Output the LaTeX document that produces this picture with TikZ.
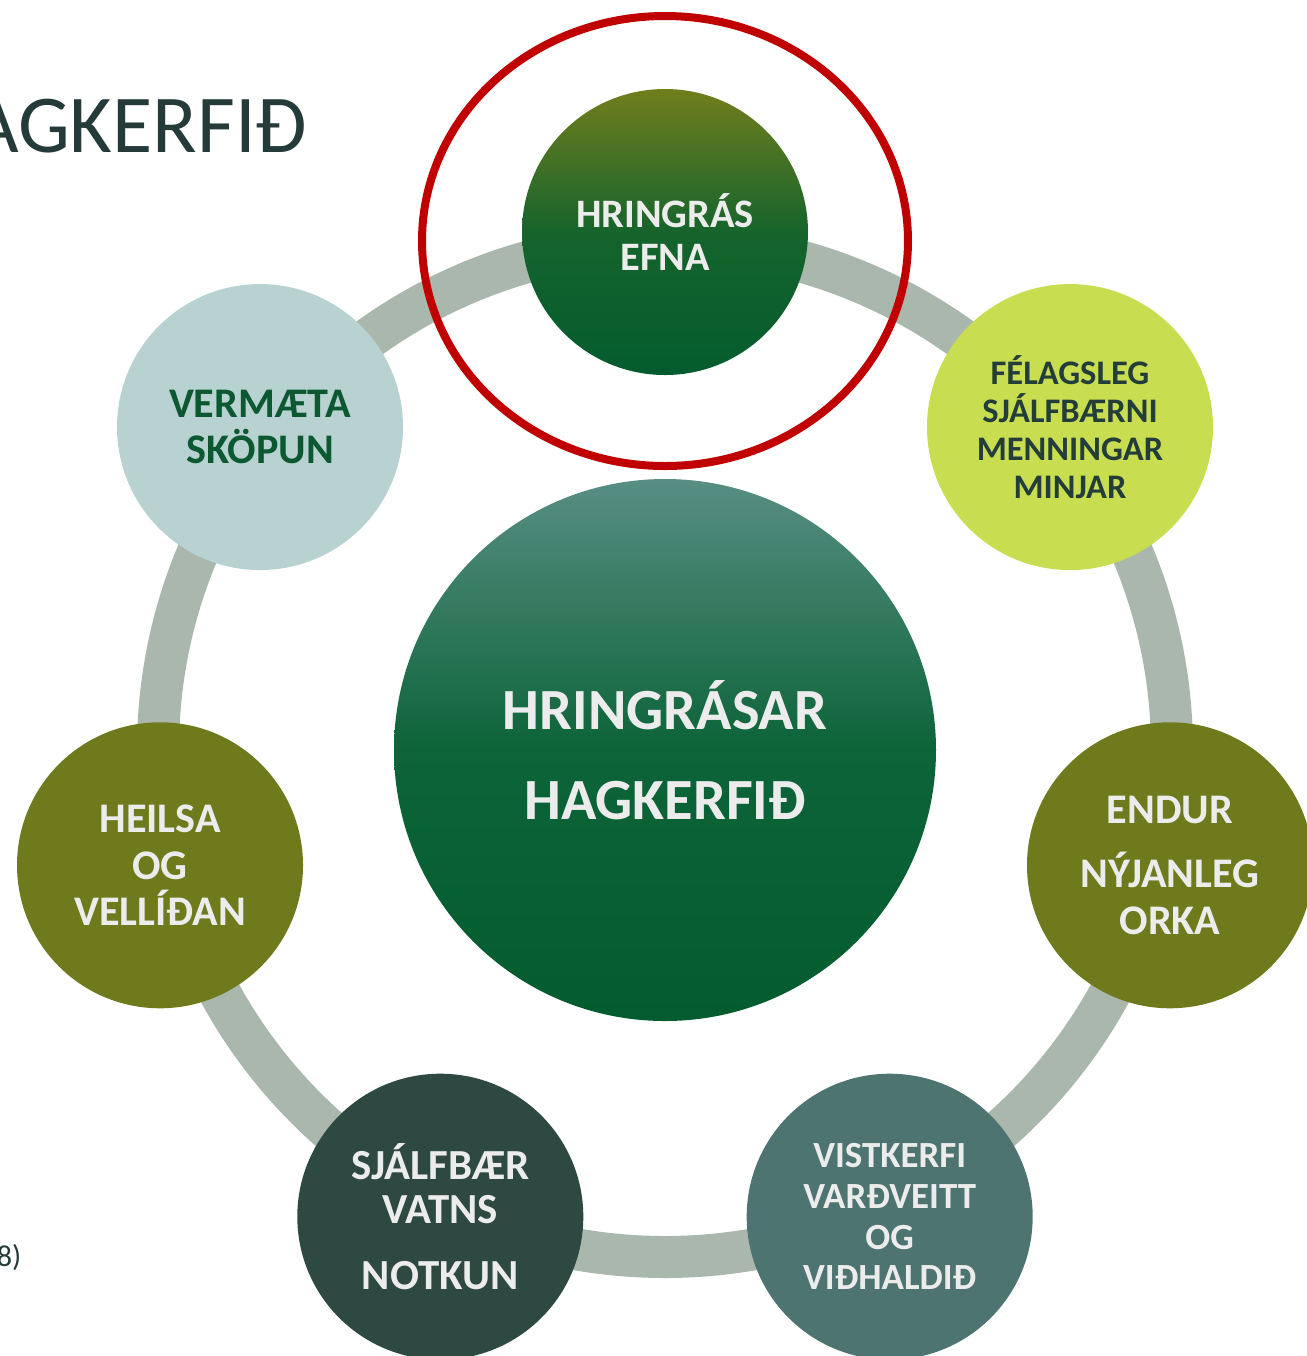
\documentclass[tikz,border=0pt]{standalone}
\usepackage{fontspec}
\setmainfont{Carlito}
\definecolor{ringgray}{RGB}{170,183,173}
\definecolor{hlred}{RGB}{192,0,0}
\definecolor{slate}{RGB}{36,59,58}
\definecolor{lighttext}{RGB}{236,236,236}
\definecolor{darkgreen}{RGB}{3,92,46}
\definecolor{efnatop}{RGB}{112,126,28}
\definecolor{efnamid}{RGB}{22,100,44}
\definecolor{hagtop}{RGB}{88,142,132}
\definecolor{hagmid}{RGB}{12,100,56}
\definecolor{paleblue}{RGB}{184,210,210}
\definecolor{lime}{RGB}{201,221,80}
\definecolor{olive}{RGB}{110,122,28}
\definecolor{deepslate}{RGB}{46,72,66}
\definecolor{teal}{RGB}{78,116,113}
\definecolor{textgreen}{RGB}{12,88,48}
\definecolor{textdark}{RGB}{35,62,58}
\begin{document}
\begin{tikzpicture}[
        base/.style={circle,inner sep=0pt,minimum size=2.86cm,align=center,text=lighttext,
            font=\bfseries\fontsize{11.5}{12}\selectfont},
        efna/.style={base,top color=efnatop,bottom color=darkgreen,middle color=efnamid},
        vermaeta/.style={base,fill=paleblue,text=textgreen,font=\bfseries\fontsize{12}{13.3}\selectfont},
        felags/.style={base,fill=lime,text=textdark,font=\bfseries\fontsize{9.8}{10.8}\selectfont},
        heilsa/.style={base,fill=olive,font=\bfseries\fontsize{12}{13.3}\selectfont},
        vatn/.style={base,fill=deepslate,font=\bfseries\fontsize{12.2}{12.5}\selectfont},
        vistkerfi/.style={base,fill=teal,font=\bfseries\fontsize{10.5}{11.6}\selectfont},
        hub/.style={base,minimum size=5.42cm,top color=hagtop,bottom color=darkgreen,middle color=hagmid,
            font=\bfseries\fontsize{16.6}{25.5}\selectfont},
        corner/.style={inner sep=0pt,text=slate}]
    \useasboundingbox (0,0) rectangle (13.07,-13.56);
    % Title and footnote, cut off at the left edge
    \node[corner,anchor=base east,font=\fontsize{23.4}{28}\selectfont] (title) at (3.08,-1.52) {AGKERFIÐ};
    \node[corner,anchor=base east,font=\fontsize{8.6}{10}\selectfont] (note) at (0.22,-12.66) {8)};
    \begin{scope}[shift={(6.65,-7.50)}]
        % Outer ring
        \draw[ringgray,line width=0.42cm] (0,0) circle (5.07);
        % Highlight round the top circle
        \draw[hlred,line width=0.08cm] (0,5.09) ellipse (2.43 and 2.25);
        % Circles on the ring
        \node[efna] (efna) at (90:5.18) {HRINGRÁS\\EFNA};
        \node[vermaeta] (vermaeta) at (141.43:5.18) {VERMÆTA\\SKÖPUN};
        \node[heilsa] (heilsa) at (192.86:5.18) {HEILSA\\OG\\VELLÍÐAN};
        \node[vatn] (vatn) at (244.29:5.18) {SJÁLFBÆR\\VATNS\\[6.2pt]NOTKUN};
        \node[vistkerfi] (vistkerfi) at (295.71:5.18) {VISTKERFI\\VARÐVEITT\\OG\\VIÐHALDIÐ};
        \node[heilsa] (orka) at (347.14:5.18) {ENDUR\\[4.8pt]NÝJANLEG\\ORKA};
        \node[felags] (felags) at (38.57:5.18) {FÉLAGSLEG\\SJÁLFBÆRNI\\MENNINGAR\\MINJAR};
        % Centre
        \node[hub] (hagkerfi) at (0,0) {HRINGRÁSAR\\HAGKERFIÐ};
    \end{scope}
\end{tikzpicture}
\end{document}
